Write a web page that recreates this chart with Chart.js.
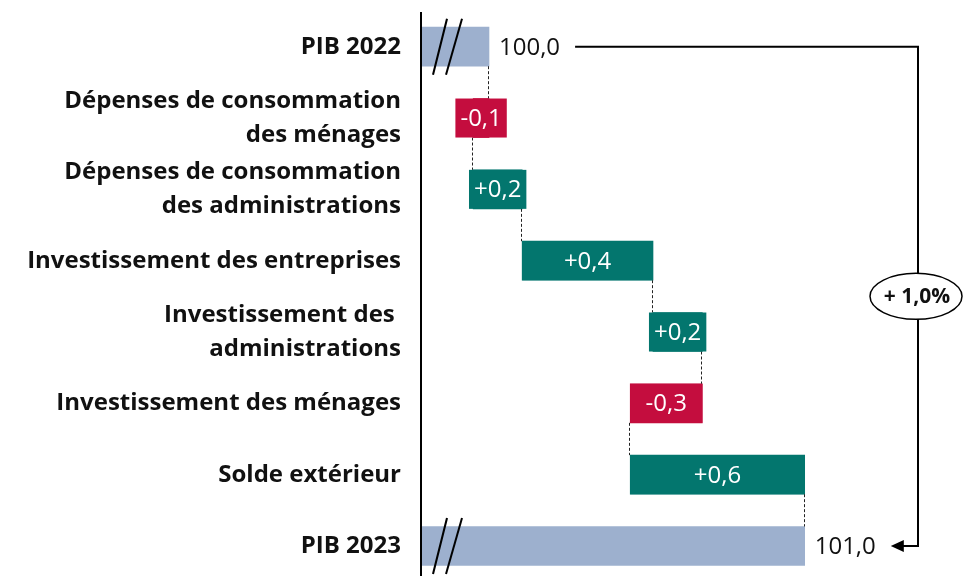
<!DOCTYPE html>
<html lang="fr">
<head>
<meta charset="utf-8">
<title>Contributions à la croissance du PIB</title>
<script src="https://cdn.jsdelivr.net/npm/chart.js@4.4.1/dist/chart.umd.min.js"></script>
<style>
  html, body { margin: 0; padding: 0; background: #fff; }
  #wrap { width: 963px; height: 576px; position: relative; }
</style>
</head>
<body>
<div id="wrap"><canvas id="waterfall"></canvas></div>
<script>
// categories (top to bottom)
const categories = [
    'PIB 2022',
    ['Dépenses de consommation', 'des ménages'],
    ['Dépenses de consommation', 'des administrations'],
    'Investissement des entreprises',
    ['Investissement des ', 'administrations'],
    'Investissement des ménages',
    'Solde extérieur',
    'PIB 2023'
];
const startValue = 100.0;
const contributions = [-0.05, 0.155, 0.414, 0.156, -0.228, 0.552];
const contributionLabels = ['-0,1', '+0,2', '+0,4', '+0,2', '-0,3', '+0,6'];
const totalLabels = ['100,0', '101,0'];
const growthLabel = '+ 1,0%';
// broken axis: the total bars start here
const axisStart = 99.788;
const axisEnd = 101.5;

const COLOR_TOTAL = '#9db0ce';
const COLOR_UP = '#03766e';
const COLOR_DOWN = '#c40d3e';
const FONT = '"Open Sans", "Noto Sans", sans-serif';

function buildWaterfall() {
    const data = [[axisStart, startValue]];
    const ends = [startValue];
    const colors = [COLOR_TOTAL];
    let running = startValue;
    contributions.forEach(c => {
        data.push([running, running + c]);
        running += c;
        ends.push(running);
        colors.push(c < 0 ? COLOR_DOWN : COLOR_UP);
    });
    data.push([axisStart, running]);
    ends.push(running);
    colors.push(COLOR_TOTAL);
    return { data: data, ends: ends, colors: colors };
}

const waterfall = buildWaterfall();

const waterfallDecor = {
    id: 'waterfallDecor',
    afterDatasetsDraw(chart) {
        const ctx = chart.ctx;
        const xs = chart.scales.x;
        const area = chart.chartArea;
        const bars = chart.getDatasetMeta(0).data;
        const last = bars.length - 1;
        const left = b => Math.min(b.x, b.base);
        const right = b => Math.max(b.x, b.base);

        ctx.save();

        // vertical axis
        ctx.strokeStyle = '#000';
        ctx.lineWidth = 2;
        ctx.beginPath();
        ctx.moveTo(area.left - 1, 12);
        ctx.lineTo(area.left - 1, chart.height);
        ctx.stroke();

        // dashed connectors between bars
        ctx.setLineDash([3, 2]);
        ctx.lineWidth = 1;
        ctx.strokeStyle = '#222';
        for (let i = 0; i < last; i++) {
            const x = Math.round(xs.getPixelForValue(waterfall.ends[i])) - 0.5;
            ctx.beginPath();
            ctx.moveTo(x, bars[i].y + bars[i].height / 2);
            ctx.lineTo(x, bars[i + 1].y - bars[i + 1].height / 2);
            ctx.stroke();
        }
        ctx.setLineDash([]);

        // contribution boxes with labels
        ctx.font = '24px ' + FONT;
        ctx.textAlign = 'center';
        ctx.textBaseline = 'middle';
        for (let i = 1; i < last; i++) {
            const b = bars[i];
            const text = contributionLabels[i - 1];
            const w = Math.max(right(b) - left(b), ctx.measureText(text).width + 10);
            const cx = (left(b) + right(b)) / 2;
            ctx.fillStyle = waterfall.colors[i];
            ctx.fillRect(cx - w / 2, b.y - b.height / 2, w, b.height);
            ctx.fillStyle = '#fff';
            ctx.fillText(text, cx, b.y + 1);
        }

        // axis break marks on the total bars
        ctx.strokeStyle = '#000';
        ctx.lineWidth = 2;
        [0, last].forEach(i => {
            const b = bars[i];
            [[25, 11], [40, 24]].forEach(([top, bottom]) => {
                ctx.beginPath();
                ctx.moveTo(area.left + top, b.y - 28);
                ctx.lineTo(area.left + bottom, b.y + 28);
                ctx.stroke();
            });
        });

        // total values
        ctx.fillStyle = '#111';
        ctx.textAlign = 'left';
        ctx.font = '24px ' + FONT;
        const x0 = right(bars[0]) + 10;
        const x1 = right(bars[last]) + 10;
        ctx.fillText(totalLabels[0], x0, bars[0].y + 1);
        ctx.fillText(totalLabels[1], x1, bars[last].y + 1);
        const lineStart = x0 + ctx.measureText(totalLabels[0]).width + 15;
        const tipX = x1 + ctx.measureText(totalLabels[1]).width + 15;

        // bracket with arrow
        const xr = area.right - 45;
        const yTop = bars[0].y;
        const yBot = bars[last].y;
        ctx.strokeStyle = '#000';
        ctx.lineWidth = 2;
        ctx.beginPath();
        ctx.moveTo(lineStart, yTop);
        ctx.lineTo(xr, yTop);
        ctx.lineTo(xr, yBot);
        ctx.lineTo(tipX + 10, yBot);
        ctx.stroke();
        ctx.fillStyle = '#000';
        ctx.beginPath();
        ctx.moveTo(tipX, yBot);
        ctx.lineTo(tipX + 13, yBot - 6);
        ctx.lineTo(tipX + 13, yBot + 6);
        ctx.closePath();
        ctx.fill();

        // growth bubble
        const cy = (yTop + yBot) / 2;
        ctx.beginPath();
        ctx.ellipse(xr - 2, cy, 46, 23, 0, 0, 2 * Math.PI);
        ctx.fillStyle = '#fff';
        ctx.fill();
        ctx.lineWidth = 1.5;
        ctx.stroke();
        ctx.fillStyle = '#111';
        ctx.textAlign = 'center';
        ctx.font = 'bold 21px ' + FONT;
        ctx.fillText(growthLabel, xr - 1, cy + 1);

        ctx.restore();
    }
};

new Chart(document.getElementById('waterfall').getContext('2d'), {
    type: 'bar',
    data: {
        labels: categories,
        datasets: [{
            data: waterfall.data,
            backgroundColor: waterfall.colors,
            borderWidth: 0,
            barThickness: 39,
            clip: false
        }]
    },
    options: {
        indexAxis: 'y',
        responsive: true,
        maintainAspectRatio: false,
        animation: false,
        layout: { padding: { top: 46.7, bottom: 30, left: 0, right: 0 } },
        plugins: {
            legend: { display: false },
            tooltip: { enabled: false }
        },
        scales: {
            x: {
                display: false,
                min: axisStart,
                max: axisEnd
            },
            y: {
                offset: false,
                grid: { display: false, drawTicks: false },
                border: { display: false },
                afterFit: scale => {
                    scale.width = 422;
                    scale.paddingTop = 0;
                    scale.paddingBottom = 0;
                },
                ticks: {
                    autoSkip: false,
                    padding: 21,
                    color: '#111',
                    font: { family: FONT, size: 24, weight: 'bold', lineHeight: '34px' }
                }
            }
        }
    },
    plugins: [waterfallDecor]
});
</script>
</body>
</html>
